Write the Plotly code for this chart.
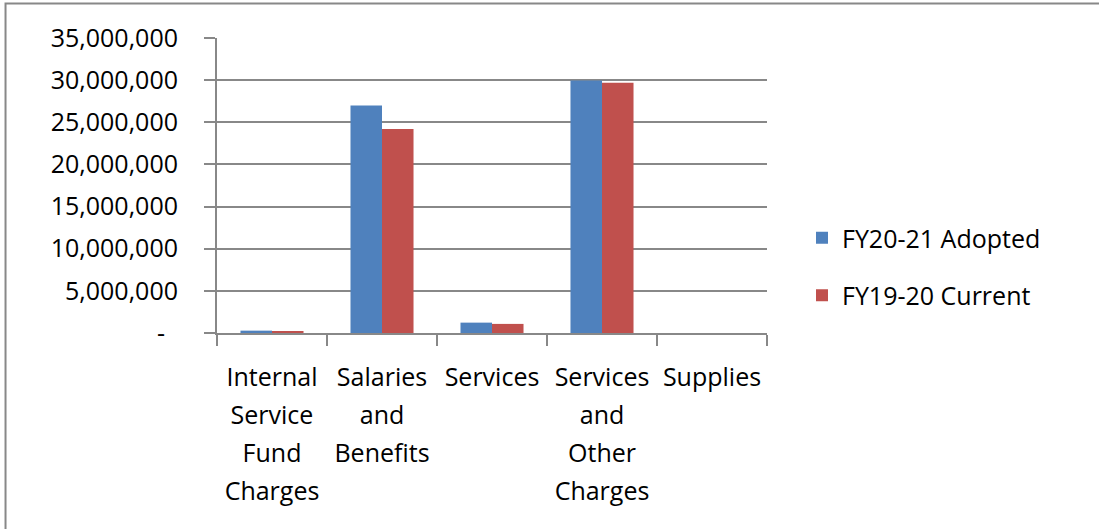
import plotly.graph_objects as go

# Expense categories and their wrapped tick labels
categories = [
    "Internal Service Fund Charges",
    "Salaries and Benefits",
    "Services",
    "Services and Other Charges",
    "Supplies",
]
category_lines = [
    ["Internal", "Service", "Fund", "Charges"],
    ["Salaries", "and", "Benefits"],
    ["Services"],
    ["Services", "and", "Other", "Charges"],
    ["Supplies"],
]

adopted_fy2021 = [280000, 27000000, 1230000, 29950000, 0]
current_fy1920 = [150000, 24200000, 1080000, 29700000, 0]

y_tickvals = [0, 5000000, 10000000, 15000000, 20000000, 25000000, 30000000, 35000000]
y_ticktext = ["-\u00a0\u00a0", "5,000,000", "10,000,000", "15,000,000",
              "20,000,000", "25,000,000", "30,000,000", "35,000,000"]

FONT = "Open Sans"
GRAY = "#888888"
TEXT_PX = 25


def wrap_label(lines):
    # base tick font is larger than the glyphs so the line pitch opens up
    return "<br>".join(f"<span style='font-size:{TEXT_PX}px'>{w}</span>" for w in lines)


x_ticktext = [wrap_label(lines) for lines in category_lines]

fig = go.Figure()
fig.add_trace(go.Bar(x=categories, y=adopted_fy2021, name="FY20-21 Adopted",
                     marker=dict(color="#4F81BD", line=dict(width=0)),
                     legendgroup="a"))
fig.add_trace(go.Bar(x=categories, y=current_fy1920, name="FY19-20 Current",
                     marker=dict(color="#C0504D", line=dict(width=0)),
                     legendgroup="b"))

fig.update_layout(
    width=1099, height=529,
    margin=dict(l=217, r=332, t=38, b=196, autoexpand=False),
    paper_bgcolor="white", plot_bgcolor="white",
    barmode="group", bargap=0.427, bargroupgap=0,
    font=dict(family=FONT, size=TEXT_PX, color="black"),
    legend=dict(x=1.0636, xanchor="left", y=0.40, yanchor="top",
                font=dict(family=FONT, size=TEXT_PX, color="black"),
                tracegroupgap=22, traceorder="grouped",
                bgcolor="rgba(0,0,0,0)"),
    xaxis=dict(
        type="category", tickangle=0, tickson="boundaries",
        tickmode="array", tickvals=categories, ticktext=x_ticktext,
        ticks="outside", ticklen=11, tickwidth=2, tickcolor=GRAY,
        showline=True, linecolor=GRAY, linewidth=2,
        showgrid=False, ticklabelstandoff=16,
        tickfont=dict(family=FONT, size=29.2, color="black"),
    ),
    yaxis=dict(
        range=[0, 35000000], tickvals=y_tickvals, ticktext=y_ticktext,
        ticks="outside", ticklen=11, tickwidth=2, tickcolor=GRAY,
        showline=True, linecolor=GRAY, linewidth=2,
        showgrid=True, gridcolor=GRAY, gridwidth=2,
        zeroline=False, ticklabelstandoff=21,
        tickfont=dict(family=FONT, size=TEXT_PX, color="black"),
    ),
    shapes=[dict(type="rect", xref="paper", yref="paper",
                 x0=-0.3845, x1=1.65, y0=-0.75, y1=1.1169,
                 line=dict(color=GRAY, width=2), fillcolor="rgba(0,0,0,0)",
                 layer="below")],
)

fig.write_html("out.html")
